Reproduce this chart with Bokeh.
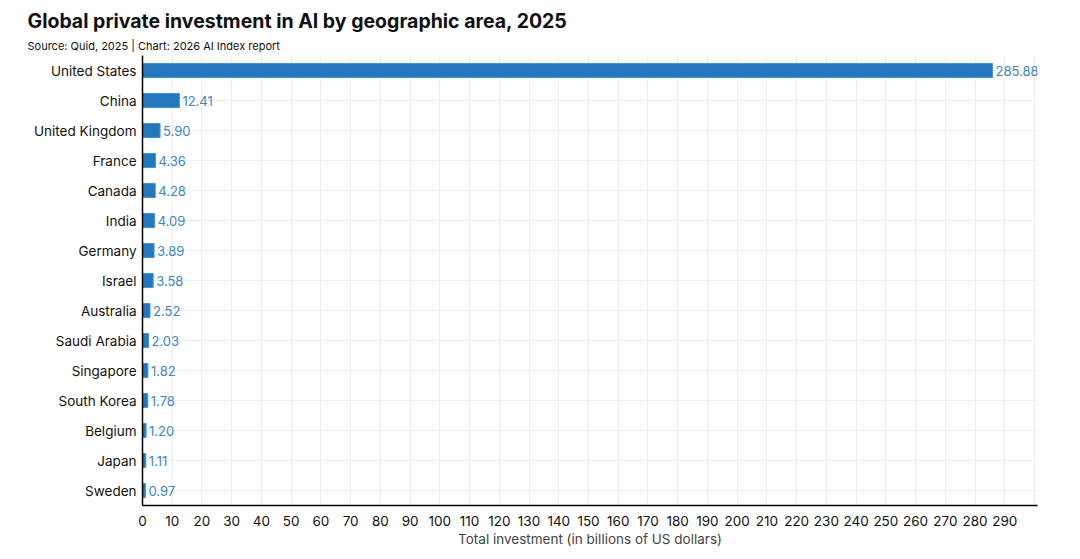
from bokeh.plotting import figure
from bokeh.models import ColumnDataSource, FixedTicker, Title, LabelSet
from bokeh.embed import file_html
from bokeh.resources import INLINE
from bokeh.core.properties import value

countries = ["United States", "China", "United Kingdom", "France", "Canada", "India",
             "Germany", "Israel", "Australia", "Saudi Arabia", "Singapore", "South Korea",
             "Belgium", "Japan", "Sweden"]
investment = [285.88, 12.41, 5.90, 4.36, 4.28, 4.09, 3.89, 3.58, 2.52, 2.03, 1.82, 1.78,
              1.20, 1.11, 0.97]
x_ticks = list(range(0, 300, 10))

FONT = "Inter"
order = list(reversed(countries))
src = ColumnDataSource(dict(country=countries, inv=investment,
                            lbl=[f"{v:.2f}" for v in investment]))

W, H = 1072, 551
p = figure(width=W, height=H, y_range=order, x_range=(0, 301),
           output_backend="svg", toolbar_location=None,
           min_border_left=142, min_border_right=W - 1037, min_border_top=55,
           min_border_bottom=H - 505)
p.outline_line_color = None
p.hbar(y="country", right="inv", left=0, height=0.47, source=src,
       fill_color="#2277bd", line_color="#4a90cc", line_width=1)
p.add_layout(LabelSet(x="inv", y="country", text="lbl", source=src, x_offset=3,
                      text_baseline="middle", text_color="#3a88c9", text_font_size="13px",
                      text_font=value(FONT)))

p.xaxis.ticker = FixedTicker(ticks=x_ticks)
p.xaxis.axis_label = "Total investment (in billions of US dollars)"
p.xaxis.axis_label_text_font = FONT
p.xaxis.axis_label_text_font_style = "normal"
p.xaxis.axis_label_text_font_size = "13.5px"
p.xaxis.axis_label_standoff = 2
for ax in (p.xaxis, p.yaxis):
    ax.axis_line_color = "black"
    ax.axis_line_width = 1.5
    ax.major_tick_line_color = None
    ax.minor_tick_line_color = None
    ax.major_label_text_font = FONT
    ax.major_label_text_font_size = "13.5px"
    ax.major_label_text_color = "#111111"
p.yaxis.major_label_standoff = 0
p.xaxis.major_label_standoff = 4
p.xgrid.grid_line_color = "#eeeeee"
p.ygrid.grid_line_color = "#eeeeee"
p.xgrid.ticker = FixedTicker(ticks=x_ticks + [300])

p.title.text = "Global private investment in AI by geographic area, 2025"
p.title.text_font = FONT
p.title.text_font_size = "19.5px"
p.title.text_font_style = "bold"
p.title.text_color = "#111111"
p.title.align = "left"
p.title.offset = 27 - 142
p.title.standoff = 3
p.add_layout(Title(text="Source: Quid, 2025 | Chart: 2026 AI Index report",
                   text_font=FONT, text_font_size="11px", text_font_style="normal",
                   text_color="#111111", align="left", offset=27 - 142, standoff=5), "above")

open("out.html", "w").write(file_html(p, INLINE))
